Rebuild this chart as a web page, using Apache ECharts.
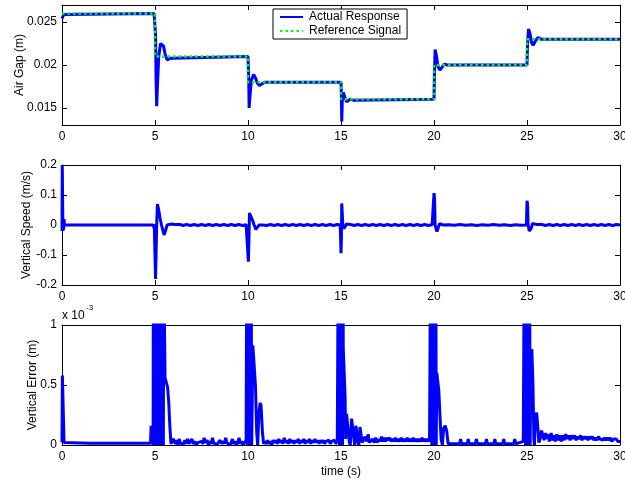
<!DOCTYPE html>
<html>
<head>
<meta charset="utf-8">
<script src="https://cdn.jsdelivr.net/npm/echarts@6/dist/echarts.min.js"></script>
<style>
  html, body { margin: 0; padding: 0; background: #fff; }
  #chart { width: 625px; height: 480px; }
</style>
</head>
<body>
<div id="chart"></div>
<script>
// Maglev gap-control simulation: air gap tracking, vertical speed and tracking error over 30 s.

const timeTicks = [0, 5, 10, 15, 20, 25, 30];
const gapTicks = [0.015, 0.02, 0.025];
const speedTicks = [-0.2, -0.1, 0, 0.1, 0.2];
const errorTicks = [0, 0.5, 1];

// Reference air gap (m), step changes every 5 s
const gapReference = [
  [0, 0.026], [5, 0.026], [5, 0.021], [10, 0.021], [10, 0.018], [15, 0.018],
  [15, 0.016], [20, 0.016], [20, 0.020], [25, 0.020], [25, 0.023], [30, 0.023]
];

// Measured air gap (m)
const gapActual = [
  [0, 0.0254], [0.05, 0.0256], [0.1, 0.0259], [0.15, 0.026], [4.95, 0.026], [5.0, 0.0261],
  [5.03, 0.0235], [5.06, 0.018], [5.09, 0.0152], [5.13, 0.0175], [5.2, 0.021], [5.3, 0.0225],
  [5.38, 0.0227], [5.46, 0.0222], [5.55, 0.0212], [5.65, 0.0206], [5.75, 0.0206], [5.85, 0.0208],
  [5.95, 0.021], [10.0, 0.021], [10.02, 0.0212], [10.04, 0.0185], [10.06, 0.015], [10.1, 0.0162],
  [10.18, 0.0182], [10.3, 0.0189], [10.4, 0.0185], [10.5, 0.0179], [10.62, 0.0176], [10.75, 0.0178],
  [10.9, 0.018], [15.0, 0.018], [15.02, 0.0165], [15.04, 0.0134], [15.07, 0.0158], [15.12, 0.0168],
  [15.2, 0.0163], [15.3, 0.0157], [15.4, 0.0157], [15.5, 0.016], [15.58, 0.0162], [15.66, 0.0159],
  [15.75, 0.016], [20.0, 0.016], [20.02, 0.0185], [20.06, 0.0218], [20.12, 0.0212], [20.22, 0.0198],
  [20.32, 0.0194], [20.42, 0.0197], [20.55, 0.0201], [20.7, 0.02], [25.0, 0.02], [25.03, 0.0225],
  [25.08, 0.0242], [25.15, 0.0238], [25.25, 0.0226], [25.33, 0.0223], [25.45, 0.0228], [25.6, 0.0232],
  [25.75, 0.023], [30, 0.023]
];

// Vertical speed (m/s)
const verticalSpeed = [
  [0, -0.02], [0.015, 0.2], [0.035, 0.2], [0.05, -0.02], [0.07, 0.02], [0.09, -0.015], [0.11, 0.02],
  [0.13, 0.0], [0.2, 0.001], [1, 0], [2, 0], [3, 0], [4, 0], [4.9, 0], [4.93, -0.008], [4.96, 0.003],
  [5.0, 0], [5.03, -0.18], [5.06, -0.175], [5.09, 0.0], [5.13, 0.07], [5.17, 0.074], [5.2, 0.05],
  [5.24, 0.046], [5.28, 0.02], [5.35, 0.0], [5.45, -0.025], [5.5, -0.033], [5.56, -0.02], [5.65, 0.0],
  [5.75, 0.005], [5.85, 0.003], [5.95, 0.0],
  [6.1, 0.0015], [6.2, -0.0015], [6.35, 0.0015], [6.5, -0.0015], [6.7, 0.0015], [6.9, -0.0015],
  [7.1, 0.0015], [7.3, -0.0015], [7.5, 0.0015], [7.7, -0.0015], [7.9, 0.0015], [8.1, -0.0015],
  [8.3, 0.0015], [8.5, -0.0015], [8.7, 0.0015], [8.9, -0.0015], [9.1, 0.0015], [9.3, -0.0015],
  [9.5, 0.0015], [9.7, -0.0015], [9.9, 0.001], [9.98, 0],
  [10.02, -0.122], [10.05, -0.05], [10.08, 0.04], [10.12, 0.044], [10.18, 0.035], [10.25, 0.015],
  [10.33, 0.0], [10.42, -0.015], [10.5, -0.008], [10.6, 0.0], [10.7, 0.003], [10.8, 0],
  [11.0, -0.0015], [11.2, 0.0015], [11.4, -0.0015], [11.6, 0.0015], [11.8, -0.0015], [12.0, 0.0015],
  [12.2, -0.0015], [12.4, 0.0015], [12.6, -0.0015], [12.8, 0.0015], [13.0, -0.0015], [13.2, 0.0015],
  [13.4, -0.0015], [13.6, 0.0015], [13.8, -0.0015], [14.0, 0.0015], [14.2, -0.0015], [14.4, 0.0015],
  [14.6, -0.0015], [14.8, 0.0015], [14.96, 0],
  [15.0, -0.094], [15.02, -0.05], [15.04, 0.072], [15.07, 0.075], [15.1, 0.0], [15.15, -0.012],
  [15.22, -0.008], [15.3, 0.003], [15.4, -0.003], [15.5, 0.002],
  [15.7, -0.0015], [15.9, 0.0015], [16.1, -0.0015], [16.3, 0.0015], [16.5, -0.0015], [16.7, 0.0015],
  [16.9, -0.0015], [17.1, 0.0015], [17.3, -0.0015], [17.5, 0.0015], [17.7, -0.0015], [17.9, 0.0015],
  [18.1, -0.0015], [18.3, 0.0015], [18.5, -0.0015], [18.7, 0.0015], [18.9, -0.0015], [19.1, 0.0015],
  [19.3, -0.0015], [19.5, 0.0015], [19.7, -0.0015], [19.9, 0.001], [19.97, 0],
  [20.0, 0.106], [20.03, 0.09], [20.06, 0.0], [20.12, -0.015], [20.16, -0.022], [20.22, -0.01],
  [20.3, 0.004], [20.4, 0.005], [20.5, 0.0],
  [20.8, 0.001], [21.1, -0.001], [21.4, 0.0015], [21.7, -0.001], [22.0, 0.001], [22.3, -0.0015],
  [22.6, 0.001], [22.9, -0.001], [23.2, 0.0015], [23.5, -0.001], [23.8, 0.001], [24.1, -0.0015],
  [24.4, 0.001], [24.7, -0.001], [24.97, 0],
  [25.0, 0.081], [25.03, 0.07], [25.06, 0.0], [25.12, -0.02], [25.17, -0.026], [25.22, -0.012],
  [25.3, 0.005], [25.4, 0.007], [25.5, 0.002], [25.6, 0.0],
  [25.8, 0.0015], [26.0, -0.0015], [26.2, 0.0015], [26.4, -0.0015], [26.6, 0.0015], [26.8, -0.0015],
  [27.0, 0.0015], [27.2, -0.0015], [27.4, 0.0015], [27.6, -0.0015], [27.8, 0.0015], [28.0, -0.0015],
  [28.2, 0.0015], [28.4, -0.0015], [28.6, 0.0015], [28.8, -0.0015], [29.0, 0.0015], [29.2, -0.0015],
  [29.4, 0.0015], [29.6, -0.0015], [29.8, 0.0015], [30, 0]
];

// Absolute vertical error, in units of 1e-3 m
const verticalError = [
  [0, 0.02], [0.02, 0.58], [0.09, 0.57], [0.11, 0.02], [1.5, 0.015], [3.0, 0.015], [4.76, 0.015],
  [4.79, 0.16], [4.85, 0.15], [4.9, 0.0],
  [4.92, 3], [4.94, 0.0], [4.96, 4], [4.98, 0.0], [5.0, 5], [5.02, 0.0], [5.04, 4], [5.06, 1.5],
  [5.11, 0.0],
  [5.15, 1.5], [5.17, 0.0], [5.19, 3], [5.21, 0.0], [5.23, 3], [5.25, 0.0], [5.27, 2], [5.31, 0.0],
  [5.35, 1.5], [5.37, 0.0], [5.39, 2], [5.41, 0.0], [5.43, 2], [5.45, 0.0], [5.47, 1.8], [5.5, 1.1],
  [5.54, 0.56], [5.62, 0.55], [5.68, 0.48], [5.74, 0.35], [5.8, 0.15], [5.86, 0.01],
  [5.92, 0.0], [5.98, 0.05], [6.05, 0.05], [6.1, 0.01], [6.18, 0.04], [6.24, 0.0], [6.3, 0.05],
  [6.36, 0.02], [6.45, 0.03], [6.52, 0.0], [6.6, 0.04], [6.68, 0.01], [6.75, 0.05], [6.82, 0.01],
  [6.9, 0.02], [6.98, 0.05], [7.05, 0.01], [7.15, 0.03], [7.22, 0.0], [7.3, 0.02], [7.4, 0.01],
  [7.5, 0.03], [7.58, 0.01], [7.64, 0.06], [7.7, 0.02], [7.8, 0.04], [7.88, 0.0], [7.96, 0.03],
  [8.04, 0.01], [8.09, 0.06], [8.15, 0.02], [8.25, 0.03], [8.32, 0.0], [8.4, 0.02], [8.5, 0.04],
  [8.58, 0.01], [8.66, 0.03], [8.74, 0.01], [8.8, 0.06], [8.86, 0.02], [8.95, 0.03], [9.02, 0.0],
  [9.1, 0.02], [9.16, 0.05], [9.22, 0.01], [9.3, 0.03], [9.38, 0.0], [9.45, 0.02], [9.52, 0.06],
  [9.58, 0.01], [9.66, 0.03], [9.74, 0.0], [9.82, 0.02], [9.9, 0.04],
  [9.95, 0.03], [9.96, 3], [9.98, 0.0], [10.0, 3], [10.02, 0.0], [10.04, 3], [10.06, 0.0], [10.08, 3],
  [10.1, 0.0], [10.12, 3], [10.14, 0.0], [10.16, 2], [10.2, 0.0], [10.26, 0.83], [10.32, 0.83],
  [10.4, 0.5], [10.47, 0.1], [10.52, 0.0], [10.58, 0.25], [10.65, 0.35], [10.7, 0.33], [10.78, 0.1],
  [10.84, 0.01],
  [10.9, 0.03], [10.98, 0.01], [11.05, 0.04], [11.12, 0.01], [11.2, 0.03], [11.28, 0.0], [11.35, 0.04],
  [11.42, 0.02], [11.5, 0.04], [11.58, 0.01], [11.66, 0.05], [11.72, 0.02], [11.8, 0.04], [11.88, 0.01],
  [11.95, 0.06], [12.02, 0.02], [12.1, 0.04], [12.18, 0.01], [12.25, 0.05], [12.32, 0.02], [12.4, 0.04],
  [12.48, 0.01], [12.55, 0.04], [12.62, 0.02], [12.7, 0.05], [12.78, 0.01], [12.85, 0.04], [12.92, 0.02],
  [13.0, 0.05], [13.08, 0.01], [13.15, 0.04], [13.22, 0.02], [13.3, 0.05], [13.38, 0.01], [13.45, 0.04],
  [13.52, 0.02], [13.6, 0.05], [13.68, 0.02], [13.75, 0.04], [13.82, 0.01], [13.9, 0.04], [13.98, 0.02],
  [14.05, 0.04], [14.12, 0.01], [14.2, 0.03], [14.28, 0.02], [14.35, 0.04], [14.42, 0.01], [14.5, 0.03],
  [14.58, 0.02], [14.65, 0.04], [14.72, 0.01], [14.8, 0.03],
  [14.88, 0.03], [14.9, 3], [14.92, 0.0], [14.94, 4], [14.96, 0.0], [14.98, 5], [15.0, 0.0], [15.02, 5],
  [15.04, 0.0], [15.06, 4], [15.08, 0.0], [15.1, 3], [15.12, 0.81], [15.18, 0.8], [15.22, 0.4],
  [15.25, 0.05], [15.3, 0.26], [15.37, 0.25], [15.45, 0.02], [15.5, 0.0], [15.57, 0.22], [15.64, 0.23],
  [15.7, 0.05], [15.74, 0.0], [15.8, 0.16], [15.86, 0.15], [15.92, 0.02], [15.96, 0.0], [16.02, 0.15],
  [16.08, 0.14], [16.14, 0.02], [16.2, 0.01], [16.3, 0.07], [16.38, 0.03], [16.46, 0.09], [16.52, 0.02],
  [16.6, 0.01],
  [16.7, 0.05], [16.78, 0.02], [16.86, 0.06], [16.94, 0.02], [17.02, 0.05], [17.1, 0.03], [17.18, 0.07],
  [17.25, 0.03], [17.32, 0.06], [17.4, 0.03], [17.48, 0.06], [17.55, 0.04], [17.62, 0.06], [17.7, 0.03],
  [17.78, 0.05], [17.85, 0.03], [17.92, 0.06], [18.0, 0.03], [18.08, 0.05], [18.16, 0.03], [18.24, 0.06],
  [18.32, 0.03], [18.4, 0.05], [18.48, 0.03], [18.56, 0.06], [18.64, 0.03], [18.72, 0.05], [18.8, 0.03],
  [18.88, 0.06], [18.96, 0.03], [19.04, 0.05], [19.12, 0.03], [19.2, 0.05], [19.28, 0.03], [19.36, 0.06],
  [19.44, 0.03], [19.52, 0.05], [19.6, 0.03], [19.68, 0.05], [19.76, 0.03],
  [19.84, 0.02], [19.86, 3], [19.88, 0.0], [19.9, 4], [19.92, 0.0], [19.94, 5], [19.96, 0.0], [19.98, 5],
  [20.0, 0.0], [20.02, 4], [20.04, 0.0], [20.06, 3], [20.08, 0.0], [20.1, 1.5], [20.12, 0.0],
  [20.15, 0.6], [20.2, 0.6], [20.26, 0.45], [20.32, 0.25], [20.38, 0.05], [20.45, 0.0], [20.52, 0.14],
  [20.6, 0.16], [20.68, 0.12], [20.76, 0.01], [20.85, 0.0],
  [21.0, 0.01], [21.38, 0.01], [21.43, 0.05], [21.48, 0.01], [21.79, 0.01], [21.84, 0.05], [21.89, 0.01],
  [22.23, 0.01], [22.28, 0.05], [22.33, 0.01], [22.77, 0.01], [22.82, 0.05], [22.87, 0.01], [23.22, 0.01],
  [23.27, 0.05], [23.32, 0.01], [23.7, 0.01], [23.75, 0.05], [23.8, 0.01], [24.29, 0.01], [24.34, 0.05],
  [24.39, 0.01], [24.6, 0.02], [24.7, 0.02], [24.8, 0.03],
  [24.88, 0.03], [24.9, 3], [24.92, 0.0], [24.94, 3], [24.96, 0.0], [24.98, 3], [25.0, 0.0], [25.02, 3],
  [25.04, 0.0], [25.06, 3], [25.08, 0.0], [25.1, 2], [25.12, 0.0], [25.14, 1.5], [25.17, 0.0],
  [25.21, 0.75], [25.26, 0.8], [25.32, 0.5], [25.37, 0.05], [25.4, 0.0], [25.45, 0.22], [25.52, 0.27],
  [25.58, 0.15], [25.64, 0.02], [25.7, 0.05], [25.78, 0.12], [25.86, 0.11], [25.92, 0.04], [26.0, 0.1],
  [26.08, 0.05], [26.14, 0.09], [26.2, 0.03], [26.3, 0.1], [26.36, 0.04],
  [26.45, 0.08], [26.52, 0.03], [26.6, 0.09], [26.68, 0.04], [26.76, 0.08], [26.84, 0.03], [26.92, 0.08],
  [27.0, 0.04], [27.08, 0.09], [27.16, 0.05], [27.24, 0.08], [27.32, 0.04], [27.4, 0.08], [27.48, 0.05],
  [27.56, 0.08], [27.64, 0.04], [27.72, 0.07], [27.8, 0.05], [27.88, 0.08], [27.96, 0.04], [28.04, 0.07],
  [28.12, 0.05], [28.2, 0.07], [28.28, 0.04], [28.36, 0.07], [28.44, 0.05], [28.52, 0.07], [28.6, 0.04],
  [28.68, 0.06], [28.76, 0.04], [28.84, 0.07], [28.92, 0.05], [29.0, 0.06], [29.08, 0.04], [29.16, 0.06],
  [29.24, 0.04], [29.32, 0.06], [29.4, 0.04], [29.48, 0.06], [29.56, 0.03], [29.64, 0.05], [29.72, 0.04],
  [29.8, 0.05], [29.88, 0.03], [29.95, 0.04], [30, 0.03]
];

const FONT = "'Liberation Sans', Arial, Helvetica, sans-serif";
const BLACK = '#000';

const grids = [
  { left: 62, right: 5, top: 5, height: 120, containLabel: false, outerBoundsMode: 'none' },
  { left: 62, right: 5, top: 165, height: 120, containLabel: false, outerBoundsMode: 'none' },
  { left: 62, right: 5, top: 325, height: 120, containLabel: false, outerBoundsMode: 'none' }
];

function xAxisPair(gridIndex, withName) {
  const base = {
    type: 'value', gridIndex, min: 0, max: 30,
    axisLine: { show: true, onZero: false, lineStyle: { color: BLACK, width: 1 } },
    axisTick: { show: true, inside: true, length: 5, lineStyle: { color: BLACK }, customValues: timeTicks },
    splitLine: { show: false }
  };
  return [
    Object.assign({}, base, {
      position: 'bottom',
      axisLabel: { show: true, color: BLACK, fontSize: 12, fontFamily: FONT, margin: 6, customValues: timeTicks },
      name: withName ? 'time (s)' : '',
      nameLocation: 'middle', nameGap: 21, nameMoveOverlap: false,
      nameTextStyle: { color: BLACK, fontSize: 12, fontFamily: FONT }
    }),
    Object.assign({}, base, { position: 'top', axisLabel: { show: false } })
  ];
}

function yAxisPair(gridIndex, min, max, ticks, name, nameGap) {
  const base = {
    type: 'value', gridIndex, min, max,
    axisLine: { show: true, onZero: false, lineStyle: { color: BLACK, width: 1 } },
    axisTick: { show: true, inside: true, length: 5, lineStyle: { color: BLACK }, customValues: ticks },
    splitLine: { show: false }
  };
  return [
    Object.assign({}, base, {
      position: 'left',
      axisLabel: { show: true, color: BLACK, fontSize: 12, fontFamily: FONT, margin: 5, customValues: ticks },
      name, nameLocation: 'middle', nameGap, nameMoveOverlap: false,
      nameTextStyle: { color: BLACK, fontSize: 12, fontFamily: FONT }
    }),
    Object.assign({}, base, { position: 'right', axisLabel: { show: false } })
  ];
}

const xAxes = [].concat(xAxisPair(0, false), xAxisPair(1, false), xAxisPair(2, true));
const yAxes = [].concat(
  yAxisPair(0, 0.013, 0.027, gapTicks, 'Air Gap (m)', 36),
  yAxisPair(1, -0.2, 0.2, speedTicks, 'Vertical Speed (m/s)', 29),
  yAxisPair(2, 0, 1, errorTicks, 'Vertical Error (m)', 23)
);

const chart = echarts.init(document.getElementById('chart'), null, { renderer: 'canvas' });
chart.setOption({
  animation: false,
  backgroundColor: '#fff',
  grid: grids,
  xAxis: xAxes,
  yAxis: yAxes,
  legend: {
    data: ['Actual Response', 'Reference Signal'],
    orient: 'vertical',
    left: 273, top: 9,
    width: 135,
    padding: [2, 6, 2, 6],
    itemGap: 2,
    itemWidth: 23, itemHeight: 10,
    backgroundColor: '#fff',
    borderColor: BLACK, borderWidth: 1,
    selectedMode: false,
    itemStyle: { opacity: 0 },
    textStyle: { color: BLACK, fontSize: 12, fontFamily: FONT, padding: [0, 0, 0, 1] }
  },
  graphic: [
    { type: 'text', left: 62, top: 310, style: { text: 'x 10', fill: BLACK, font: '12px ' + FONT } },
    { type: 'text', left: 86, top: 304, style: { text: '-3', fill: BLACK, font: '8px ' + FONT } }
  ],
  series: [
    {
      name: 'Actual Response', type: 'line', xAxisIndex: 0, yAxisIndex: 0,
      data: gapActual, symbol: 'none', showSymbol: false,
      lineStyle: { color: '#0000ff', width: 3 }, itemStyle: { color: '#0000ff' }
    },
    {
      name: 'Reference Signal', type: 'line', xAxisIndex: 0, yAxisIndex: 0,
      data: gapReference, symbol: 'none', showSymbol: false,
      lineStyle: { color: '#00ff00', width: 2.5, type: [2.5, 3] }, itemStyle: { color: '#00ff00' }
    },
    {
      type: 'line', xAxisIndex: 2, yAxisIndex: 2,
      data: verticalSpeed, symbol: 'none', showSymbol: false,
      lineStyle: { color: '#0000ff', width: 3 }
    },
    {
      type: 'line', xAxisIndex: 4, yAxisIndex: 4,
      data: verticalError, symbol: 'none', showSymbol: false, clip: true,
      lineStyle: { color: '#0000ff', width: 3 }
    }
  ]
});
</script>
</body>
</html>
